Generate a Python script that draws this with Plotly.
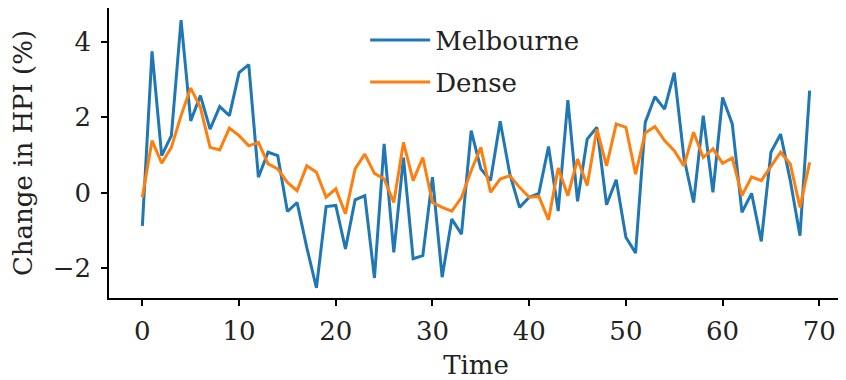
import plotly.graph_objects as go

time = list(range(70))

melbourne = [-0.88, 3.74, 0.98, 1.51, 4.57, 1.90, 2.57, 1.68, 2.28, 2.04,
             3.18, 3.39, 0.41, 1.07, 0.98, -0.50, -0.26, -1.45, -2.52, -0.37,
             -0.34, -1.49, -0.19, -0.08, -2.26, 1.29, -1.58, 0.93, -1.75, -1.67,
             0.41, -2.24, -0.70, -1.10, 1.64, 0.63, 0.32, 1.89, 0.49, -0.39,
             -0.12, -0.02, 1.22, -0.49, 2.45, -0.23, 1.42, 1.73, -0.32, 0.34,
             -1.18, -1.60, 1.86, 2.54, 2.21, 3.18, 0.93, -0.26, 2.04, 0.01,
             2.52, 1.82, -0.52, -0.02, -1.29, 1.07, 1.55, 0.32, -1.14, 2.70]

dense = [-0.12, 1.38, 0.78, 1.20, 2.04, 2.77, 2.26, 1.20, 1.13, 1.71,
         1.51, 1.24, 1.33, 0.76, 0.63, 0.27, 0.05, 0.71, 0.54, -0.12,
         0.10, -0.56, 0.63, 1.02, 0.51, 0.36, -0.26, 1.33, 0.32, 0.93,
         -0.26, -0.39, -0.49, -0.13, 0.58, 1.20, 0.01, 0.36, 0.45, 0.14,
         -0.12, -0.10, -0.72, 0.65, -0.08, 0.89, 0.19, 1.68, 0.71, 1.82,
         1.73, 0.49, 1.58, 1.75, 1.38, 1.11, 0.71, 1.60, 0.93, 1.16,
         0.78, 0.92, -0.08, 0.42, 0.32, 0.71, 1.07, 0.76, -0.39, 0.80]

x_ticks = [0, 10, 20, 30, 40, 50, 60, 70]
y_ticks = [-2, 0, 2, 4]
y_tick_labels = ["\u22122", "0", "2", "4"]

FONT = "DejaVu Serif"
TXT = "#222222"
FS = 26

fig = go.Figure()
fig.add_trace(go.Scatter(x=time, y=melbourne, mode="lines", name="Melbourne",
                         legendgroup="a", line=dict(color="#1f77b4", width=3)))
fig.add_trace(go.Scatter(x=time, y=dense, mode="lines", name="Dense",
                         legendgroup="b", line=dict(color="#ff7f0e", width=3)))

axis_common = dict(showgrid=False, zeroline=False, automargin=False,
                   showline=True, linecolor="black", linewidth=1.5,
                   ticks="outside", ticklen=6, tickwidth=1.5, tickcolor="black",
                   tickfont=dict(family=FONT, size=FS, color=TXT))

# page body has an 8px margin, so the figure is sized/offset to compensate
fig.update_layout(
    width=838, height=372,
    margin=dict(l=101, r=3, t=0, b=82),
    paper_bgcolor="white", plot_bgcolor="white",
    font=dict(family=FONT, size=FS, color=TXT),
    showlegend=True,
    legend=dict(x=0.349, y=0.97, xanchor="left", yanchor="top",
                bgcolor="rgba(255,255,255,0)", font=dict(size=FS, family=FONT, color=TXT),
                itemwidth=60, tracegroupgap=5),
    xaxis=dict(range=[-3.45, 72.45], tickvals=x_ticks, ticklabelstandoff=3,
               title=dict(text="Time", standoff=11, font=dict(family=FONT, size=FS, color=TXT)),
               **axis_common),
    yaxis=dict(range=[-2.79, 4.89], tickvals=y_ticks, ticktext=y_tick_labels,
               ticklabelstandoff=5,
               title=dict(text="Change in HPI (%)", standoff=15,
                          font=dict(family=FONT, size=FS, color=TXT)),
               **axis_common),
)

fig.write_html("out.html")
